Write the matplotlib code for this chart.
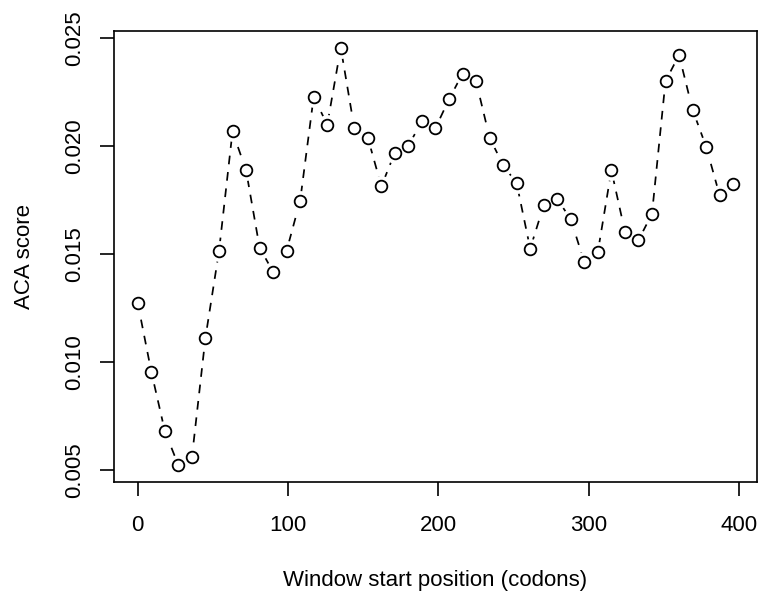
import numpy as np
import matplotlib
matplotlib.use("Agg")
import matplotlib.pyplot as plt

plt.rcParams['font.family'] = ['Liberation Sans', 'DejaVu Sans']

# window start positions (codons) and ACA score per window
window_start = np.arange(0, 397, 9)
aca_score = [0.01272, 0.00955, 0.00680, 0.00522, 0.00560, 0.01114, 0.01514,
             0.02069, 0.01889, 0.01531, 0.01418, 0.01517, 0.01749, 0.02230,
             0.02100, 0.02457, 0.02085, 0.02040, 0.01815, 0.01971, 0.02003,
             0.02117, 0.02085, 0.02218, 0.02337, 0.02301, 0.02040, 0.01913,
             0.01829, 0.01526, 0.01727, 0.01756, 0.01662, 0.01463, 0.01511,
             0.01889, 0.01605, 0.01565, 0.01687, 0.02302, 0.02423, 0.02170,
             0.01999, 0.01773, 0.01827]

xticks = [0, 100, 200, 300, 400]
yticks = [0.005, 0.010, 0.015, 0.020, 0.025]
ytick_labels = ["0.005", "0.010", "0.015", "0.020", "0.025"]

fig = plt.figure(figsize=(7.61, 5.92), dpi=100)
ax = fig.add_axes([0.1498, 0.1858, 0.8449, 0.7618])

# dashed line with gaps around the points (like R type="b")
ax.plot(window_start, aca_score, color='black', lw=1.25, ls=(0, (5, 4.5)))
ax.plot(window_start, aca_score, ls='none', marker='o', ms=15,
        mfc='white', mec='white', mew=0)
ax.plot(window_start, aca_score, ls='none', marker='o', ms=8.4,
        mfc='none', mec='black', mew=1.3)

# R style axis ranges (4% padding)
xr = max(window_start) - min(window_start)
ax.set_xlim(min(window_start) - 0.04 * xr, max(window_start) + 0.04 * xr)
yr = max(aca_score) - min(aca_score)
ax.set_ylim(min(aca_score) - 0.04 * yr, max(aca_score) + 0.04 * yr)

ax.set_xticks(xticks)
ax.set_yticks(yticks)
ax.set_yticklabels(ytick_labels, rotation=90, va='center')
ax.tick_params(direction='out', length=10, width=1.2, labelsize=16,
               color='black')
ax.tick_params(axis='x', pad=14)
ax.tick_params(axis='y', pad=11)
for s in ax.spines.values():
    s.set_linewidth(1.2)

ax.set_xlabel('Window start position (codons)', fontsize=16, labelpad=24)
ax.set_ylabel('ACA score', fontsize=16, labelpad=21)

fig.savefig('out.png', dpi=100)
